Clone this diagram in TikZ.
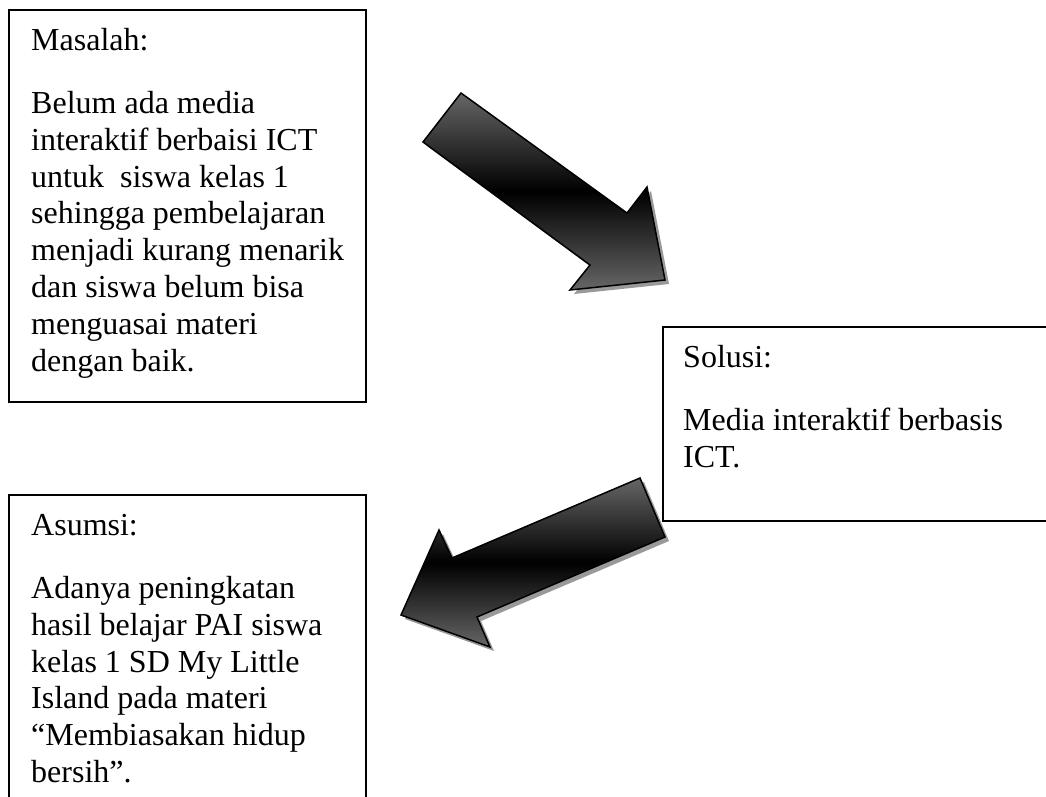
\documentclass[tikz,border=0pt]{standalone}
\usepackage{fontspec}
\setmainfont{Liberation Serif}
\begin{document}
\begin{tikzpicture}[x=1pt,y=-1pt,
  boxstyle/.style={draw=black,line width=1.4pt,inner sep=0pt,fill=white},
  txtstyle/.style={anchor=base west,inner sep=0pt,font=\fontsize{32}{36.8}\selectfont},
  blockarrow/.style={draw=black,line width=1.5pt,line join=miter,top color=black!60,bottom color=black!60,middle color=black},
  arrowshadow/.style={fill=black!40,draw=none}]
\useasboundingbox (0,0) rectangle (1046,796);
% boxes
\draw[boxstyle] (9,10) rectangle (366,402);
\node[inner sep=0pt] (masalah) at (187.5,206) {};
\draw[boxstyle] (663,327) rectangle (1070,521);
\node[inner sep=0pt] (solusi) at (860,424) {};
\draw[boxstyle] (9,495) rectangle (366,820);
\node[inner sep=0pt] (asumsi) at (187.5,657) {};
% texts
\node[txtstyle] (t1) at (31,50) {\begin{tabular}[t]{@{}l@{}}Masalah:\\[26.7pt]
Belum ada media\\
interaktif berbaisi ICT\\
untuk\ \ siswa kelas 1\\
sehingga pembelajaran\\
menjadi kurang menarik\\
dan siswa belum bisa\\
menguasai materi\\
dengan baik.\end{tabular}};
\node[txtstyle] (t2) at (683,367) {\begin{tabular}[t]{@{}l@{}}Solusi:\\[26.7pt]
Media interaktif berbasis\\
ICT.\end{tabular}};
\node[txtstyle] (t3) at (31,535) {\begin{tabular}[t]{@{}l@{}}Asumsi:\\[26.7pt]
Adanya peningkatan\\
hasil belajar PAI siswa\\
kelas 1 SD My Little\\
Island pada materi\\
“Membiasakan hidup\\
bersih”.\end{tabular}};
% arrow 1 (Masalah -> Solusi)
\fill[arrowshadow,shift={(4,4)}] (461,93) -- (423,142) -- (590,265) -- (570,290) -- (665,280) -- (647,187) -- (627,213) -- cycle;
\draw[blockarrow] (461,93) -- (423,142) -- (590,265) -- (570,290) -- (665,280) -- (647,187) -- (627,213) -- cycle;
% arrow 2 (Solusi -> Asumsi)
\fill[arrowshadow,shift={(4,4)}] (640,478) -- (665,537) -- (477,617) -- (490,647) -- (401,615) -- (439,530) -- (452,558) -- cycle;
\draw[blockarrow] (640,478) -- (665,537) -- (477,617) -- (490,647) -- (401,615) -- (439,530) -- (452,558) -- cycle;
\end{tikzpicture}
\end{document}
